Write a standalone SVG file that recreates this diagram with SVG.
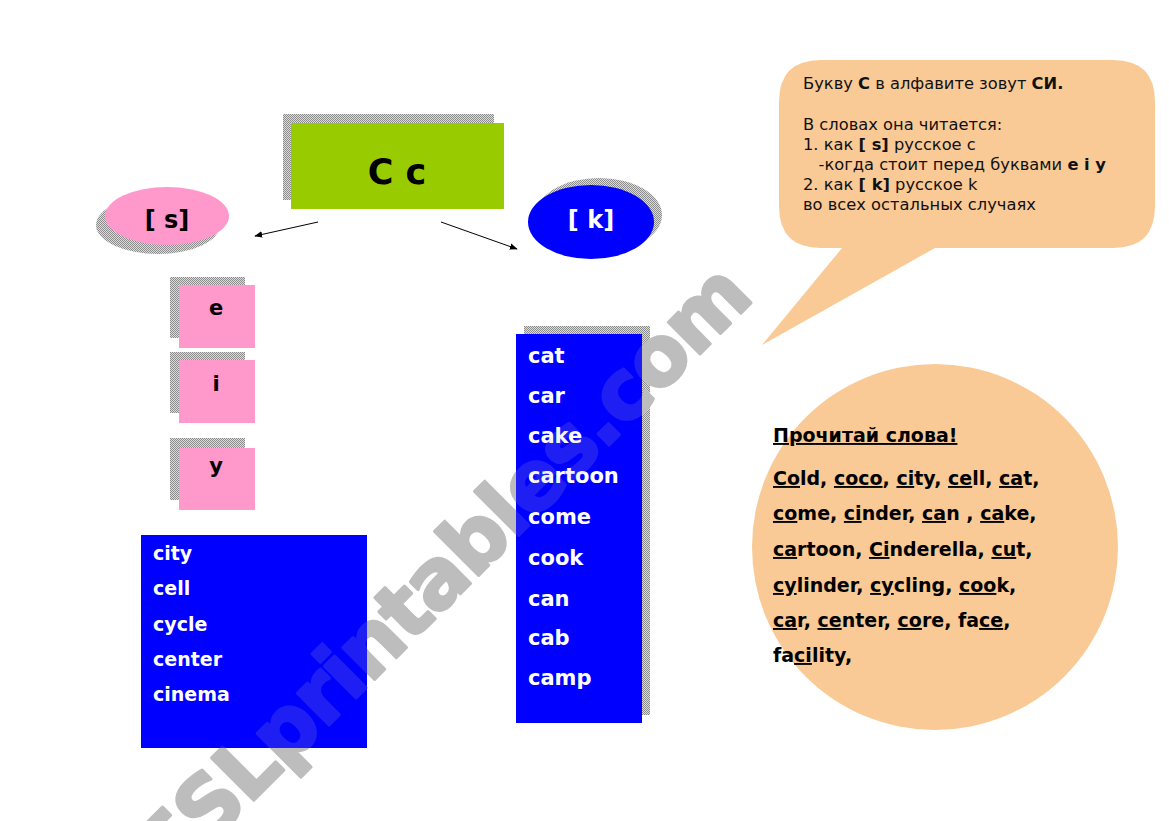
<svg xmlns="http://www.w3.org/2000/svg" width="1169" height="821" viewBox="0 0 1169 821">
<style>
.f{font-family:"DejaVu Sans","Verdana","Liberation Sans",sans-serif}
.b{font-weight:bold}
.pink{fill:#FF99CC}
.blue{fill:#0000FF}
.peach{fill:#F9CA96}
.sh{fill:url(#dither)}
.wl{font-family:"DejaVu Sans","Verdana",sans-serif;font-weight:bold;font-size:19px;fill:#fff}
.wr{font-family:"DejaVu Sans","Verdana",sans-serif;font-weight:bold;font-size:21px;fill:#fff}
.bt{font-family:"DejaVu Sans","Verdana","Noto Sans",sans-serif;font-size:16.3px;fill:#111}
.ct{font-family:"DejaVu Sans","Verdana","Noto Sans",sans-serif;font-weight:bold;font-size:19px;fill:#000}
.u{text-decoration:underline}
.conn{stroke:#000;stroke-width:1;fill:none}
</style>
<defs>
<pattern id="dither" width="2" height="2" patternUnits="userSpaceOnUse">
<rect width="2" height="2" fill="#dcdcdc"/>
<rect width="1" height="1" fill="#8c8c8c"/>
<rect x="1" y="1" width="1" height="1" fill="#8c8c8c"/>
</pattern>
<marker id="ah" viewBox="0 0 10 10" refX="9" refY="5" markerWidth="8" markerHeight="8" orient="auto" markerUnits="userSpaceOnUse">
<path d="M0,1 L10,5 L0,9 Z" fill="#000"/>
</marker>
<mask id="wmMask" maskUnits="userSpaceOnUse" x="0" y="0" width="1169" height="821">
<rect width="1169" height="821" fill="#fff"/>
<rect x="141" y="535" width="226" height="213" fill="#2a2a2a"/>
<rect x="516" y="334" width="126" height="389" fill="#2a2a2a"/>
</mask>
</defs>
<rect width="1169" height="821" fill="#fff"/>

<g id="title">
<rect class="sh" x="283" y="114" width="211" height="86"/>
<rect x="291" y="123" width="213" height="86" fill="#99CC00"/>
<text class="f b" x="397" y="184" font-size="35" text-anchor="middle" fill="#000">C c</text>
</g>

<g id="s-sound">
<ellipse class="sh" cx="158" cy="225" rx="62" ry="29"/>
<ellipse class="pink" cx="167" cy="216" rx="62" ry="29"/>
<text class="f b" x="167" y="228" font-size="24" text-anchor="middle" fill="#000">[ s]</text>
</g>

<g id="k-sound">
<ellipse class="sh" cx="599" cy="215" rx="63" ry="37"/>
<ellipse class="blue" cx="591" cy="222" rx="63" ry="37"/>
<text class="f b" x="591" y="228" font-size="24" text-anchor="middle" fill="#fff">[ k]</text>
</g>

<g id="letter-e">
<rect class="sh" x="170" y="277" width="75" height="61"/>
<rect class="pink" x="179" y="285" width="76" height="63"/>
<text class="f b" x="216" y="315" font-size="21" text-anchor="middle" fill="#000">e</text>
</g>
<g id="letter-i">
<rect class="sh" x="170" y="352" width="75" height="61"/>
<rect class="pink" x="179" y="360" width="76" height="63"/>
<text class="f b" x="216" y="391" font-size="21" text-anchor="middle" fill="#000">i</text>
</g>
<g id="letter-y">
<rect class="sh" x="170" y="438" width="75" height="62"/>
<rect class="pink" x="179" y="448" width="76" height="62"/>
<text class="f b" x="216" y="473" font-size="21" text-anchor="middle" fill="#000">y</text>
</g>

<g id="s-words">
<rect class="blue" x="141" y="535" width="226" height="213"/>
<text class="wl" x="153" y="560">city</text>
<text class="wl" x="153" y="595">cell</text>
<text class="wl" x="153" y="631">cycle</text>
<text class="wl" x="153" y="666">center</text>
<text class="wl" x="153" y="701">cinema</text>
</g>

<g id="k-words">
<rect class="sh" x="524" y="326" width="126" height="389"/>
<rect class="blue" x="516" y="334" width="126" height="389"/>
<text class="wr" x="528" y="363">cat</text>
<text class="wr" x="528" y="403">car</text>
<text class="wr" x="528" y="443">cake</text>
<text class="wr" x="528" y="483">cartoon</text>
<text class="wr" x="528" y="524">come</text>
<text class="wr" x="528" y="565">cook</text>
<text class="wr" x="528" y="606">can</text>
<text class="wr" x="528" y="645">cab</text>
<text class="wr" x="528" y="685">camp</text>
</g>

<g id="rule-bubble">
<path class="peach" d="M821,60 H1113 Q1155,60 1155,102 V206 Q1155,248 1113,248 H935 L762,345 L842,248 H821 Q779,248 779,206 V102 Q779,60 821,60 Z"/>
<text class="bt" x="803" y="89">Букву <tspan font-weight="bold">С</tspan> в алфавите зовут <tspan font-weight="bold">СИ.</tspan></text>
<text class="bt" x="803" y="130">В словах она читается:</text>
<text class="bt" x="803" y="150">1. как <tspan font-weight="bold">[ s]</tspan> русское  с</text>
<text class="bt" x="803" y="170" xml:space="preserve">   -когда стоит перед буквами <tspan font-weight="bold">e i y</tspan></text>
<text class="bt" x="803" y="190">2. как <tspan font-weight="bold">[ k]</tspan> русское k</text>
<text class="bt" x="803" y="210">во всех остальных случаях</text>
</g>

<g id="read-circle">
<circle class="peach" cx="935" cy="547" r="183"/>
<text class="ct u" x="773" y="442" font-size="17">Прочитай слова!</text>
<text class="ct" x="773" y="485"><tspan class="u">Co</tspan>ld, <tspan class="u">coco</tspan>, <tspan class="u">ci</tspan>ty, <tspan class="u">ce</tspan>ll, <tspan class="u">ca</tspan>t,</text>
<text class="ct" x="773" y="520"><tspan class="u">co</tspan>me, <tspan class="u">ci</tspan>nder, <tspan class="u">ca</tspan>n , <tspan class="u">ca</tspan>ke,</text>
<text class="ct" x="773" y="556"><tspan class="u">ca</tspan>rtoon, <tspan class="u">Ci</tspan>nderella, <tspan class="u">cu</tspan>t,</text>
<text class="ct" x="773" y="592"><tspan class="u">cy</tspan>linder, <tspan class="u">cy</tspan>cling, <tspan class="u">coo</tspan>k,</text>
<text class="ct" x="773" y="627"><tspan class="u">ca</tspan>r, <tspan class="u">ce</tspan>nter, <tspan class="u">co</tspan>re, fa<tspan class="u">ce</tspan>,</text>
<text class="ct" x="773" y="662">fa<tspan class="u">ci</tspan>lity,</text>
</g>

<g id="connectors">
<line class="conn" x1="318" y1="222" x2="255" y2="236" marker-end="url(#ah)"/>
<line class="conn" x1="441" y1="222" x2="517" y2="249" marker-end="url(#ah)"/>
</g>

<g id="watermark" mask="url(#wmMask)">
<text class="f b" x="0" y="0" font-size="82" letter-spacing="-2" fill="#bdbdbd" stroke="#bdbdbd" stroke-width="3" stroke-linejoin="round" transform="translate(170,884) rotate(-45)">ESLprintables.com</text>
</g>
</svg>
